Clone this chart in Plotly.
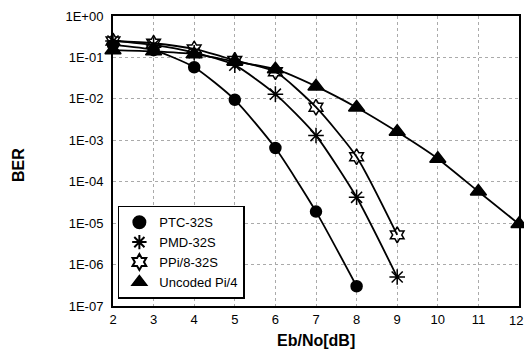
import plotly.graph_objects as go

ebno = [2, 3, 4, 5, 6, 7, 8, 9, 10, 11, 12]

ptc_x = [2, 3, 4, 5, 6, 7, 8]
ptc_y = [0.2, 0.15, 0.058, 0.0095, 6.5e-4, 1.9e-5, 3.0e-7]

pmd_x = [2, 3, 4, 5, 6, 7, 8, 9]
pmd_y = [0.25, 0.2, 0.13, 0.065, 0.013, 1.3e-3, 4.2e-5, 5.0e-7]

ppi_x = [2, 3, 4, 5, 6, 7, 8, 9]
ppi_y = [0.25, 0.22, 0.16, 0.085, 0.045, 6.3e-3, 4.0e-4, 5.2e-6]

unc_x = [2, 3, 4, 5, 6, 7, 8, 9, 10, 11, 12]
unc_y = [0.15, 0.14, 0.12, 0.08, 0.052, 0.02, 6.2e-3, 1.6e-3, 3.6e-4, 5.8e-5, 9.5e-6]

ytick_vals = [1, 1e-1, 1e-2, 1e-3, 1e-4, 1e-5, 1e-6, 1e-7]
ytick_text = ["1E+00", "1E-01", "1E-02", "1E-03", "1E-04", "1E-05", "1E-06", "1E-07"]

W, H = 524, 358
L, R, T, B = 113, 5, 16, 52
pw, ph = W - L - R, H - T - B

fig = go.Figure()
series = [
    ("PTC-32S", ptc_x, ptc_y, "circle", 11),
    ("PMD-32S", pmd_x, pmd_y, "asterisk-open", 13),
    ("PPi/8-32S", ppi_x, ppi_y, "hexagram-open", 12),
    ("Uncoded Pi/4", unc_x, unc_y, "triangle-up", 14),
]
for name, xs, ys, sym, sz in series:
    fig.add_trace(go.Scatter(
        x=xs, y=ys, name=name, mode="lines+markers", showlegend=False,
        cliponaxis=False,
        line=dict(color="black", width=1.8, shape="spline", smoothing=0.6),
        marker=dict(symbol=sym, size=sz, color="black",
                    line=dict(color="black", width=1.5)),
    ))
for name, xs, ys, sym, sz in series:
    fig.add_trace(go.Scatter(
        x=[None], y=[None], name=name, mode="markers", showlegend=True,
        marker=dict(symbol=sym, size=sz, color="black",
                    line=dict(color="black", width=1.5)),
    ))

fig.update_layout(
    width=W, height=H,
    margin=dict(l=L, r=R, t=T, b=B),
    paper_bgcolor="white", plot_bgcolor="white",
    font=dict(family="Liberation Sans, Arial, sans-serif", color="black", size=13),
    showlegend=True,
    legend=dict(x=0.012, y=0.025, xanchor="left", yanchor="bottom",
                bordercolor="black", borderwidth=1.5, bgcolor="white",
                font=dict(size=13), itemsizing="constant",
                tracegroupgap=0, itemwidth=30),
    annotations=[
        dict(text="<b>Eb/No[dB]</b>", x=(316 - L) / pw, y=(H - B - 340) / ph,
             xref="paper", yref="paper", xanchor="center", yanchor="middle",
             showarrow=False, font=dict(size=16)),
        dict(text="<b>BER</b>", x=(18 - L) / pw, y=(H - B - 165) / ph,
             xref="paper", yref="paper", xanchor="center", yanchor="middle",
             showarrow=False, font=dict(size=16), textangle=-90),
        dict(text="12", x=ebno[-1], y=(H - B - 320) / ph, xref="x", yref="paper",
             xanchor="center", yanchor="middle", xshift=-3, showarrow=False,
             font=dict(size=13)),
    ],
)

fig.update_xaxes(
    range=[2, 12], tickvals=ebno[:-1], ticks="", ticklen=0, showline=True,
    linecolor="black", linewidth=2, mirror=True, showgrid=True,
    gridcolor="#aaaaaa", griddash="dot", gridwidth=1, zeroline=False,
    automargin=False,
)
fig.update_yaxes(
    type="log", range=[-7, 0], tickvals=ytick_vals, ticktext=ytick_text,
    ticks="", ticklen=0, showline=True, linecolor="black", linewidth=2,
    mirror=True, showgrid=True, gridcolor="#aaaaaa", griddash="dot", gridwidth=1,
    zeroline=False, automargin=False, ticklabelstandoff=5,
)

fig.write_html("out.html", config={"displayModeBar": False},
               post_script="document.body.style.margin='0px';")
